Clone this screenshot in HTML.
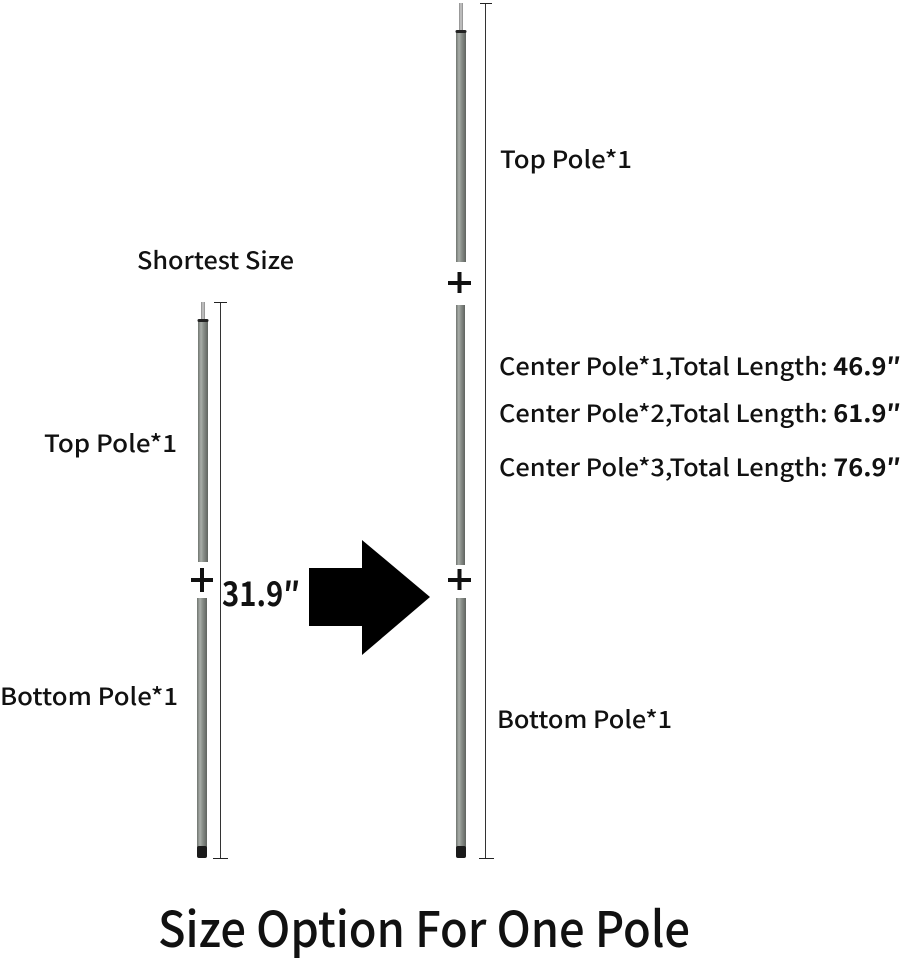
<!DOCTYPE html>
<html><head><meta charset="utf-8"><style>
html,body{margin:0;padding:0;background:#fff;}
svg{display:block;}
text{font-family:"Noto Sans CJK JP","Liberation Sans",sans-serif;fill:#111;font-weight:500;}
</style></head><body>
<svg width="901" height="960" viewBox="0 0 901 960" xmlns="http://www.w3.org/2000/svg">
<defs>
<linearGradient id="g" x1="0" x2="1" y1="0" y2="0">
<stop offset="0" stop-color="#6f746f"/><stop offset="0.3" stop-color="#a9aea9"/><stop offset="0.55" stop-color="#8a8f8a"/><stop offset="1" stop-color="#5f635f"/>
</linearGradient>
<linearGradient id="t" x1="0" x2="1"><stop offset="0" stop-color="#888"/><stop offset="0.5" stop-color="#ccc"/><stop offset="1" stop-color="#888"/></linearGradient>
</defs>

<rect x="201" y="302" width="4" height="18" fill="url(#t)"/>
<rect x="198" y="320" width="10" height="242" fill="url(#g)"/>
<rect x="197.5" y="319" width="11" height="3" rx="1.5" fill="#222"/>
<rect x="191" y="578" width="22" height="4" fill="#111"/>
<rect x="200" y="568" width="4" height="24" fill="#111"/>
<rect x="197" y="598" width="10" height="250" fill="url(#g)"/>
<rect x="197" y="846" width="10" height="12" rx="2" fill="#1a1a1a"/>
<line x1="220.5" y1="302" x2="220.5" y2="858" stroke="#333" stroke-width="1"/>
<line x1="214" y1="302.5" x2="227" y2="302.5" stroke="#222" stroke-width="1"/>
<line x1="213" y1="858.5" x2="228" y2="858.5" stroke="#222" stroke-width="1"/>

<rect x="459" y="3" width="4" height="27" fill="url(#t)"/>
<rect x="456" y="31" width="10" height="231" fill="url(#g)"/>
<rect x="455.5" y="30" width="11" height="3" rx="1.5" fill="#222"/>
<rect x="448" y="281" width="23" height="4" fill="#111"/>
<rect x="457.5" y="272" width="4" height="21" fill="#111"/>
<rect x="456" y="305" width="9" height="260" fill="url(#g)"/>
<rect x="448" y="578" width="23" height="4" fill="#111"/>
<rect x="457.5" y="569" width="4" height="21" fill="#111"/>
<rect x="456" y="598" width="10" height="250" fill="url(#g)"/>
<rect x="456" y="846" width="10" height="12" rx="2" fill="#1a1a1a"/>
<line x1="485.5" y1="3" x2="485.5" y2="858" stroke="#333" stroke-width="1"/>
<line x1="480" y1="3.5" x2="492" y2="3.5" stroke="#222" stroke-width="1"/>
<line x1="479" y1="858.5" x2="494" y2="858.5" stroke="#222" stroke-width="1"/>

<polygon points="309,568 362,568 362,540 430,597 362,655 362,626 309,626" fill="#000"/>

<text x="137" y="269" font-size="24" textLength="157" lengthAdjust="spacingAndGlyphs">Shortest Size</text>
<text x="44" y="452" font-size="24" textLength="133" lengthAdjust="spacingAndGlyphs">Top Pole*1</text>
<text x="0" y="705" font-size="24" textLength="178" lengthAdjust="spacingAndGlyphs">Bottom Pole*1</text>
<text x="222" y="606" font-size="33" style="font-weight:bold" textLength="78" lengthAdjust="spacingAndGlyphs">31.9″</text>

<text x="500" y="168" font-size="24" textLength="132" lengthAdjust="spacingAndGlyphs">Top Pole*1</text>
<text x="499" y="375" font-size="24" textLength="402" lengthAdjust="spacingAndGlyphs">Center Pole*1,Total Length: <tspan style="font-weight:bold">46.9″</tspan></text>
<text x="499" y="422" font-size="24" textLength="402" lengthAdjust="spacingAndGlyphs">Center Pole*2,Total Length: <tspan style="font-weight:bold">61.9″</tspan></text>
<text x="499" y="476" font-size="24" textLength="402" lengthAdjust="spacingAndGlyphs">Center Pole*3,Total Length: <tspan style="font-weight:bold">76.9″</tspan></text>
<text x="497" y="728" font-size="24" textLength="175" lengthAdjust="spacingAndGlyphs">Bottom Pole*1</text>

<text x="158" y="947" font-size="49" textLength="532" lengthAdjust="spacingAndGlyphs">Size Option For One Pole</text>
</svg>
</body></html>
